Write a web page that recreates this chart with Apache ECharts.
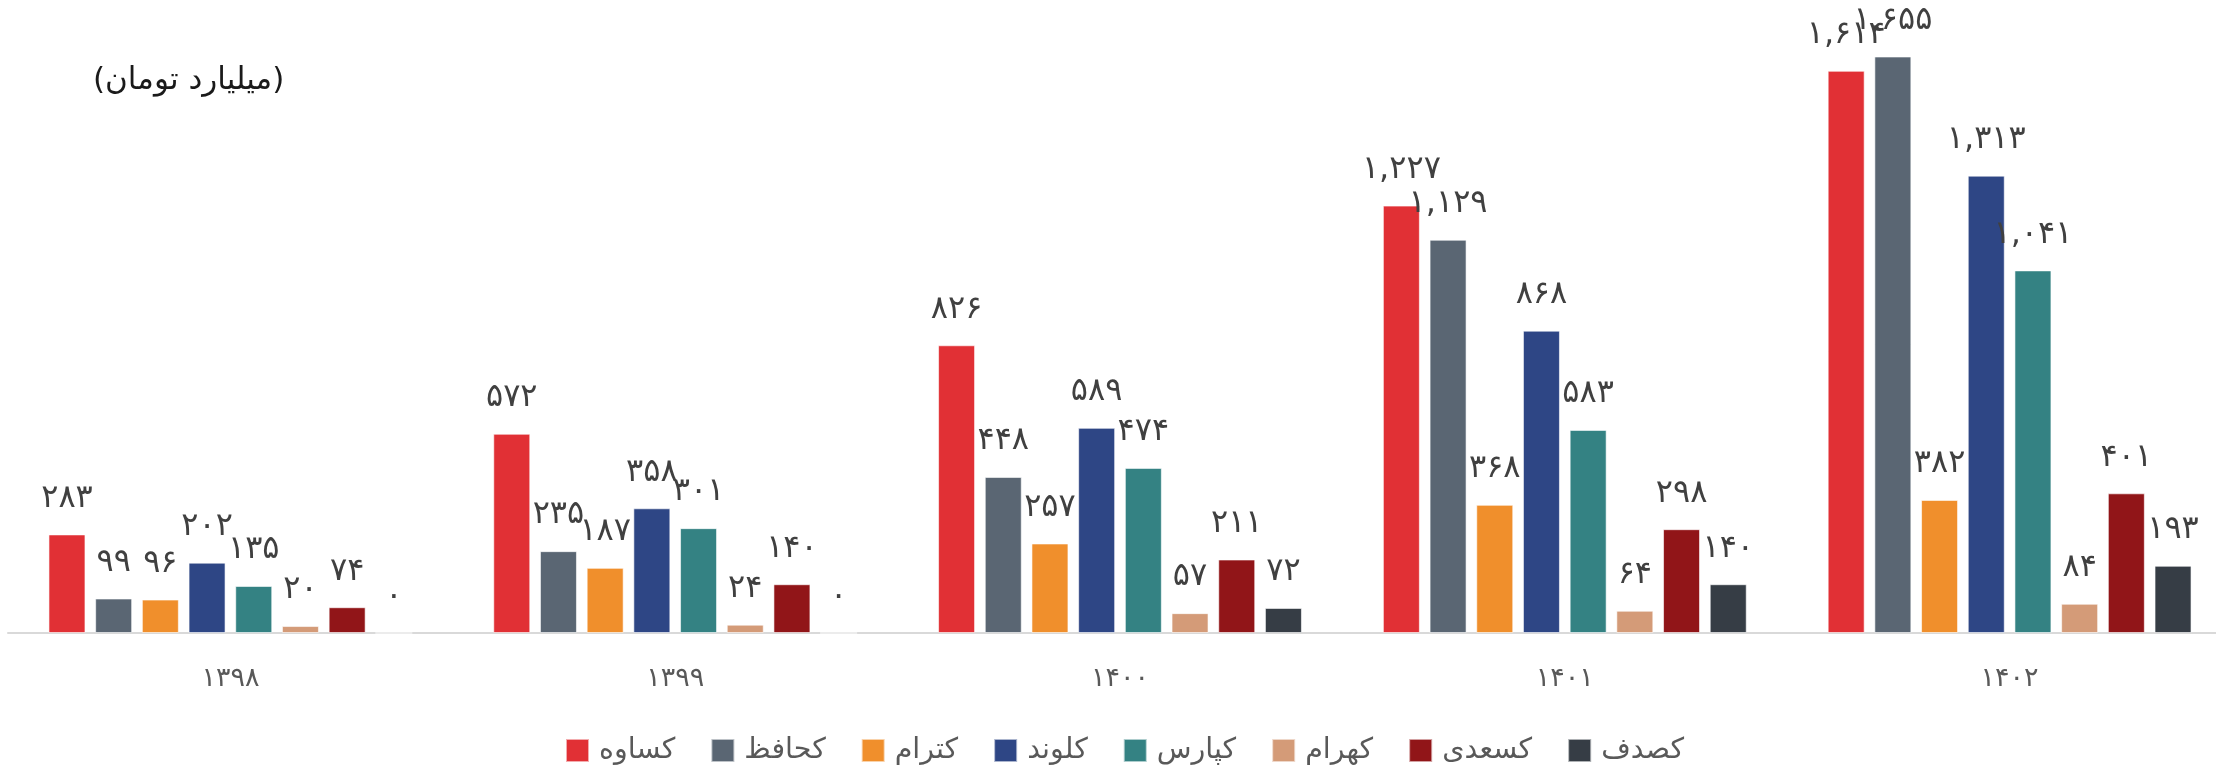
<!DOCTYPE html>
<html>
<head>
<meta charset="utf-8">
<script src="https://cdn.jsdelivr.net/npm/echarts@6/dist/echarts.min.js"></script>
<style>
html, body { margin: 0; padding: 0; background: #fff; overflow: hidden; }
#main { width: 2240px; height: 769px; }
</style>
</head>
<body>
<div id="main"></div>
<script>
// years on the x axis
var years = ['۱۳۹۸', '۱۳۹۹', '۱۴۰۰', '۱۴۰۱', '۱۴۰۲'];
var names = ['کساوه', 'کحافظ', 'کترام', 'کلوند', 'کپارس', 'کهرام', 'کسعدی', 'کصدف'];
var colors = ['#E13035', '#5A6673', '#F08F2C', '#2E4685', '#348283', '#D49B78', '#911518', '#363D45'];

var kSaveh = [283, 572, 826, 1227, 1614];
var kHafez = [99, 235, 448, 1129, 1655];
var kTram = [96, 187, 257, 368, 382];
var kLavand = [202, 358, 589, 868, 1313];
var kPars = [135, 301, 474, 583, 1041];
var kHoram = [20, 24, 57, 64, 84];
var kSaadi = [74, 140, 211, 298, 401];
var kSadaf = [0, 0, 72, 140, 193];
var values = [kSaveh, kHafez, kTram, kLavand, kPars, kHoram, kSaadi, kSadaf];

var FONT = 'DejaVu Sans';

function faNum(n) {
    return n.toLocaleString('en-US').replace(/[0-9]/g, function (d) {
        return '۰۱۲۳۴۵۶۷۸۹'[+d];
    });
}

var series = names.map(function (name, i) {
    return {
        name: name,
        type: 'bar',
        data: values[i],
        barWidth: 37,
        barGap: '26.2%',
        itemStyle: {
            color: colors[i],
            borderColor: 'rgba(255,255,255,0.6)',
            borderWidth: 1
        },
        label: {
            show: true,
            position: 'top',
            distance: 20,
            fontFamily: FONT,
            fontSize: 32,
            color: '#404040',
            formatter: function (p) { return faNum(p.value); }
        }
    };
});

var myChart = echarts.init(document.getElementById('main'));
var option = {
    animation: false,
    color: colors,
    title: {
        text: '\u200F(میلیارد تومان)\u200F',
        left: 93,
        top: 65,
        padding: 0,
        textStyle: {
            fontFamily: FONT,
            fontSize: 31,
            fontWeight: 'normal',
            color: '#1a1a1a'
        }
    },
    legend: {
        data: names,
        left: 565,
        top: 736,
        padding: 0,
        icon: 'rect',
        itemWidth: 23,
        itemHeight: 23,
        itemGap: 35,
        textStyle: {
            fontFamily: FONT,
            fontSize: 28.5,
            color: '#595959',
            padding: [0, 0, 0, 5]
        }
    },
    grid: {
        left: 8,
        width: 2224,
        top: 6,
        bottom: 136
    },
    xAxis: {
        type: 'category',
        data: years,
        axisLine: { show: true, lineStyle: { color: '#D9D9D9', width: 2 } },
        axisTick: { show: false },
        axisLabel: {
            fontFamily: FONT,
            fontSize: 27,
            color: '#595959',
            margin: 32
        }
    },
    yAxis: {
        type: 'value',
        min: 0,
        max: 1800,
        show: false,
        splitLine: { show: false }
    },
    series: series
};
myChart.setOption(option);
</script>
</body>
</html>
